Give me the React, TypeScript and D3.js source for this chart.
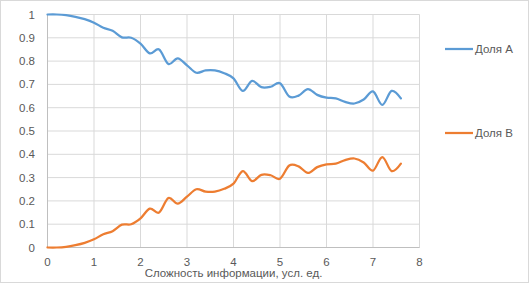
import React from "react";
import * as d3 from "d3";

const xValues = [0, 0.2, 0.4, 0.6, 0.8, 1.0, 1.2, 1.4, 1.6, 1.8, 2.0, 2.2, 2.4, 2.6, 2.8, 3.0, 3.2, 3.4, 3.6, 3.8, 4.0, 4.2, 4.4, 4.6, 4.8, 5.0, 5.2, 5.4, 5.6, 5.8, 6.0, 6.2, 6.4, 6.6, 6.8, 7.0, 7.2, 7.4, 7.6];
const seriesA = [1.0, 1.0, 0.997, 0.99, 0.98, 0.965, 0.943, 0.93, 0.902, 0.9, 0.875, 0.833, 0.85, 0.788, 0.812, 0.782, 0.75, 0.76, 0.76, 0.748, 0.726, 0.672, 0.715, 0.688, 0.69, 0.705, 0.648, 0.652, 0.68, 0.655, 0.643, 0.64, 0.625, 0.618, 0.635, 0.67, 0.612, 0.672, 0.64];
const seriesB = [0.0, 0.0, 0.003, 0.01, 0.02, 0.035, 0.057, 0.07, 0.098, 0.1, 0.125, 0.167, 0.15, 0.212, 0.188, 0.218, 0.25, 0.24, 0.24, 0.252, 0.274, 0.328, 0.285, 0.312, 0.31, 0.295, 0.352, 0.348, 0.32, 0.345, 0.357, 0.36, 0.375, 0.382, 0.365, 0.33, 0.388, 0.328, 0.36];
const seriesNames = ["Доля А", "Доля В"];
const xTicks = [0, 1, 2, 3, 4, 5, 6, 7, 8];
const yTicks = [0, 0.1, 0.2, 0.3, 0.4, 0.5, 0.6, 0.7, 0.8, 0.9, 1];
const xTitle = "Сложность информации, усл. ед.";

const W = 529;
const H = 283;
const colors = ["#5B9BD5", "#ED7D31"];
const font = "'Liberation Sans', Arial, sans-serif";

export default function App() {
  const x = d3.scaleLinear().domain([0, 8]).range([47.5, 419.5]);
  const y = d3.scaleLinear().domain([0, 1]).range([247.5, 14.5]);
  const line = d3
    .line<number>()
    .x((_, i) => x(xValues[i]))
    .y((d) => y(d))
    .curve(d3.curveCatmullRom.alpha(0));
  const series = [seriesA, seriesB];
  const legendY = [49, 133];

  return (
    <svg
      width={W}
      height={H}
      style={{ position: "absolute", left: 0, top: 0 }}
    >
      <rect x={0.5} y={0.5} width={W - 1} height={H - 1} fill="#fff" stroke="#D9D9D9" />
      {yTicks.map((t) => (
        <line key={"gy" + t} x1={x(0)} x2={x(8)} y1={y(t)} y2={y(t)} stroke="#D9D9D9" strokeWidth={1} />
      ))}
      {xTicks.map((t) => (
        <line key={"gx" + t} x1={x(t)} x2={x(t)} y1={y(0)} y2={y(1)} stroke="#D9D9D9" strokeWidth={1} />
      ))}
      <line x1={x(0)} x2={x(8)} y1={y(0)} y2={y(0)} stroke="#BFBFBF" strokeWidth={1} />
      <line x1={x(0)} x2={x(0)} y1={y(0)} y2={y(1)} stroke="#BFBFBF" strokeWidth={1} />
      {yTicks.map((t) => (
        <text key={"ty" + t} x={35} y={y(t) + 4} textAnchor="end" fontFamily={font} fontSize={11.5} fill="#595959">
          {d3.format("~g")(t)}
        </text>
      ))}
      {xTicks.map((t) => (
        <text key={"tx" + t} x={x(t)} y={266} textAnchor="middle" fontFamily={font} fontSize={11.5} fill="#595959">
          {t}
        </text>
      ))}
      <text x={(x(0) + x(8)) / 2} y={277} textAnchor="middle" fontFamily={font} fontSize={11.5} fill="#595959">
        {xTitle}
      </text>
      {series.map((s, i) => (
        <path key={"s" + i} d={line(s) || ""} fill="none" stroke={colors[i]} strokeWidth={2.25} strokeLinecap="round" />
      ))}
      {seriesNames.map((n, i) => (
        <g key={"lg" + i}>
          <line x1={445} x2={473} y1={legendY[i]} y2={legendY[i]} stroke={colors[i]} strokeWidth={2.25} />
          <text x={475} y={legendY[i] + 4} fontFamily={font} fontSize={11.5} fill="#595959">
            {n}
          </text>
        </g>
      ))}
    </svg>
  );
}
